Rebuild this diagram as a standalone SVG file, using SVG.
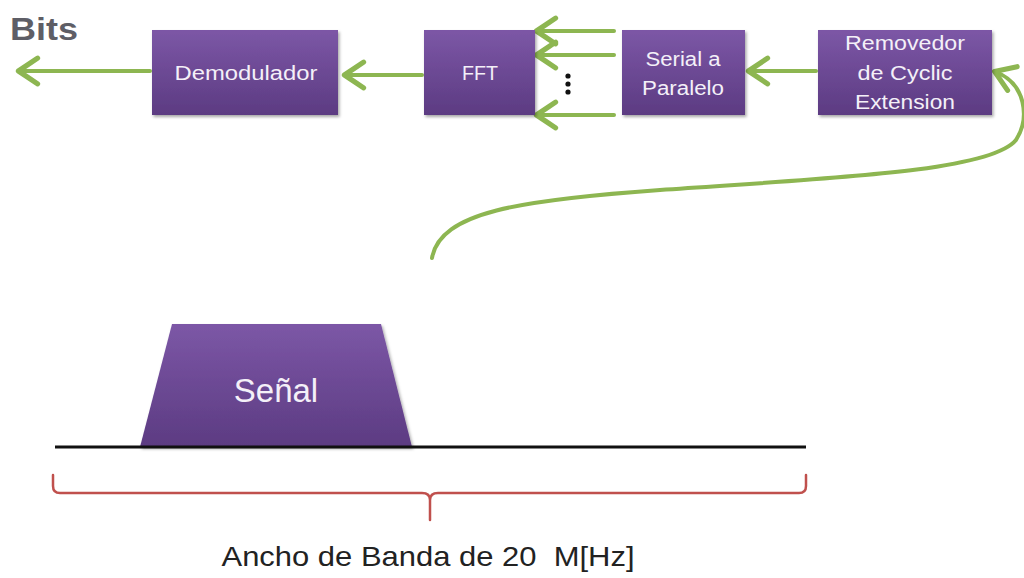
<svg xmlns="http://www.w3.org/2000/svg" width="1024" height="578" viewBox="0 0 1024 578">
<defs>
<linearGradient id="pg" x1="0" y1="0" x2="0" y2="1">
<stop offset="0" stop-color="#7c57a6"/>
<stop offset="1" stop-color="#5c3b82"/>
</linearGradient>
<filter id="sh" x="-10%" y="-10%" width="130%" height="130%">
<feDropShadow dx="1.5" dy="2" stdDeviation="1.5" flood-color="#000" flood-opacity="0.35"/>
</filter>
<marker id="ah" markerWidth="8" markerHeight="8" viewBox="0 0 10 10" refX="7.5" refY="5" orient="auto" markerUnits="strokeWidth">
<path d="M2,1 L8,5 L2,9" fill="none" stroke="#8db651" stroke-width="1.6" stroke-linecap="round" stroke-linejoin="round"/>
</marker>
</defs>
<style>
.box{fill:url(#pg);filter:url(#sh)}
.bt{fill:#f4f0f8;font-family:"Liberation Sans",Arial,sans-serif;font-size:20px;text-anchor:middle}
.cn{fill:none;stroke:#8db651;stroke-width:4;stroke-linecap:round}
</style>
<text x="10" y="40" font-family="Liberation Sans,Arial,sans-serif" font-weight="bold" font-size="31" fill="#5e5e66" textLength="68" lengthAdjust="spacingAndGlyphs">Bits</text>
<g id="connectors">
<line class="cn" x1="150" y1="71" x2="20" y2="71" marker-end="url(#ah)"/>
<line class="cn" x1="422" y1="75" x2="346" y2="75" marker-end="url(#ah)"/>
<line class="cn" x1="614" y1="31" x2="538" y2="31" marker-end="url(#ah)"/>
<line class="cn" x1="614" y1="55" x2="538" y2="55" marker-end="url(#ah)"/>
<line class="cn" x1="614" y1="115" x2="538" y2="115" marker-end="url(#ah)"/>
<line class="cn" x1="816" y1="71" x2="750" y2="71" marker-end="url(#ah)"/>
<path class="cn" d="M432,258 C440,212 520,200 660,190 C830,178 990,172 1016,140 C1030,118 1026,84 996,72" marker-end="url(#ah)"/>
<g fill="#111"><circle cx="568" cy="76" r="2.6"/><circle cx="568" cy="84" r="2.6"/><circle cx="568" cy="92" r="2.6"/></g>
</g>
<g id="demodulador">
<rect class="box" x="152" y="30" width="186" height="85"/>
<text class="bt" x="246" y="80" textLength="143" lengthAdjust="spacingAndGlyphs">Demodulador</text>
</g>
<g id="fft">
<rect class="box" x="424" y="30" width="111" height="85"/>
<text class="bt" x="480" y="80" textLength="36" lengthAdjust="spacingAndGlyphs">FFT</text>
</g>
<g id="serial">
<rect class="box" x="622" y="30" width="123" height="85"/>
<text class="bt" x="683" y="66" textLength="75" lengthAdjust="spacingAndGlyphs">Serial a</text>
<text class="bt" x="683" y="95" textLength="82" lengthAdjust="spacingAndGlyphs">Paralelo</text>
</g>
<g id="removedor">
<rect class="box" x="818" y="30" width="174" height="85"/>
<text class="bt" x="905" y="50" textLength="120" lengthAdjust="spacingAndGlyphs">Removedor</text>
<text class="bt" x="905" y="80" textLength="95" lengthAdjust="spacingAndGlyphs">de Cyclic</text>
<text class="bt" x="905" y="109" textLength="100" lengthAdjust="spacingAndGlyphs">Extension</text>
</g>
<g id="senal">
<path class="box" d="M172,324 L381,324 L412,447 L140,447 Z"/>
<text x="276" y="402" fill="#f4f0f8" font-family="Liberation Sans,Arial,sans-serif" font-size="33" text-anchor="middle">Señal</text>
</g>
<line x1="55" y1="447" x2="806" y2="447" stroke="#111" stroke-width="3"/>
<g id="brace">
<path d="M53,475 L53,486 Q53,493 60,493 L422,493 Q430,493 430,500 L430,520 M430,500 Q430,493 438,493 L799,493 Q806,493 806,486 L806,475" fill="none" stroke="#c0504d" stroke-width="2.5" stroke-linecap="round"/>
</g>
<text x="428" y="566" fill="#222" font-family="Liberation Sans,Arial,sans-serif" font-size="28" text-anchor="middle" textLength="413" lengthAdjust="spacingAndGlyphs" xml:space="preserve">Ancho de Banda de 20  M[Hz]</text>
</svg>
